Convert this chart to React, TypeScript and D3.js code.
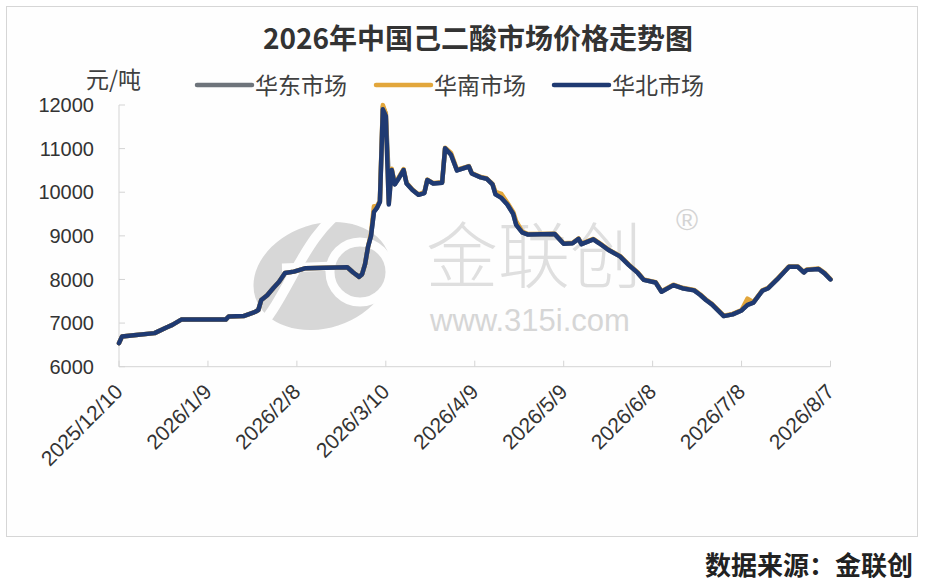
import React from "react";
import * as d3 from "d3";

const dates = [
  "2025-12-10","2025-12-11","2025-12-15","2025-12-22","2025-12-26","2025-12-28","2025-12-31",
  "2026-01-15","2026-01-16","2026-01-21","2026-01-25","2026-01-26","2026-01-27","2026-01-29","2026-01-31",
  "2026-02-02","2026-02-04","2026-02-07","2026-02-11","2026-02-25","2026-02-27",
  "2026-03-01","2026-03-02","2026-03-03","2026-03-04","2026-03-05","2026-03-06","2026-03-07","2026-03-08",
  "2026-03-09","2026-03-10","2026-03-11","2026-03-12","2026-03-13","2026-03-14","2026-03-16","2026-03-17",
  "2026-03-19","2026-03-21","2026-03-23","2026-03-24","2026-03-26","2026-03-29","2026-03-30",
  "2026-04-01","2026-04-03","2026-04-07","2026-04-08","2026-04-11","2026-04-13","2026-04-15","2026-04-16",
  "2026-04-18","2026-04-20","2026-04-22","2026-04-23","2026-04-25","2026-04-27",
  "2026-05-06","2026-05-09","2026-05-12","2026-05-14","2026-05-15","2026-05-19","2026-05-21","2026-05-24",
  "2026-05-28","2026-05-31","2026-06-03","2026-06-05","2026-06-09","2026-06-11","2026-06-15","2026-06-18",
  "2026-06-22","2026-06-24","2026-06-26","2026-06-28","2026-07-02","2026-07-05","2026-07-08","2026-07-10",
  "2026-07-12","2026-07-15","2026-07-17","2026-07-20","2026-07-24","2026-07-27","2026-07-29","2026-07-30",
  "2026-08-03","2026-08-05","2026-08-07",
];

const northValues = [
  6540,6690,6720,6770,6900,6960,7080,
  7080,7150,7160,7260,7300,7530,7640,7800,
  7950,8150,8180,8260,8280,8160,
  8060,8120,8350,8750,9000,9550,9640,9780,
  11900,11750,9720,10510,10180,10280,10510,10200,
  10050,9940,9980,10280,10200,10220,11010,
  10860,10500,10590,10430,10340,10310,10180,9950,
  9870,9720,9500,9250,9080,9030,
  9040,8820,8830,8930,8810,8920,8830,8680,
  8530,8330,8150,7990,7930,7720,7870,7800,
  7750,7650,7530,7430,7160,7200,7290,7420,
  7470,7740,7800,8000,8290,8290,8160,8220,
  8240,8140,8000,
];

const eastValues = [
  6540,6690,6720,6770,6900,6960,7080,
  7080,7150,7160,7260,7300,7530,7640,7800,
  7950,8150,8180,8260,8280,8160,
  8060,8120,8350,8750,9000,9560,9640,9780,
  11960,11800,10300,10510,10180,10280,10510,10200,
  10050,9940,9980,10280,10200,10220,11010,
  10860,10500,10590,10430,10340,10310,10180,9950,
  9870,9720,9500,9250,9080,9030,
  9040,8820,8830,8930,8810,8920,8830,8680,
  8530,8330,8150,7990,7930,7720,7870,7800,
  7750,7650,7530,7430,7160,7200,7290,7420,
  7470,7740,7800,8000,8290,8290,8160,8220,
  8240,8140,8000,
];

const southValues = [
  6540,6690,6720,6770,6900,6960,7080,
  7080,7150,7160,7260,7300,7530,7640,7800,
  7950,8150,8180,8260,8280,8160,
  8060,8120,8350,8750,9050,9680,9680,9800,
  12000,11800,9750,10540,10200,10300,10530,10220,
  10060,9950,10000,10290,10210,10230,11020,
  10900,10520,10600,10440,10350,10320,10190,10010,
  9960,9760,9540,9330,9100,9040,
  9050,8830,8840,8940,8820,8930,8840,8690,
  8540,8340,8160,8000,7940,7730,7880,7810,
  7760,7660,7540,7440,7170,7210,7300,7560,
  7480,7750,7810,8010,8300,8300,8170,8230,
  8250,8150,8010,
];

const seriesNames = ["华东市场", "华南市场", "华北市场"];
const seriesColors = ["#6e747b", "#e2a63b", "#1f3a72"];

const xTickLabels = [
  "2025/12/10","2026/1/9","2026/2/8","2026/3/10","2026/4/9",
  "2026/5/9","2026/6/8","2026/7/8","2026/8/7",
];
const yTicks = [6000, 7000, 8000, 9000, 10000, 11000, 12000];

const parse = d3.timeParse("%Y-%m-%d");
const parseTick = d3.timeParse("%Y/%m/%d");

const W = 926;
const H = 584;
const CJK = "'Noto Sans CJK SC', 'Noto Sans', sans-serif";
const NUM = "'Liberation Sans', Arial, sans-serif";

export default function App() {
  const x = d3
    .scaleTime()
    .domain([parse("2025-12-10") as Date, parse("2026-08-07") as Date])
    .range([119, 830.5]);
  const y = d3.scaleLinear().domain([6000, 12000]).range([366.7, 105]);

  const allSeries = [eastValues, southValues, northValues];
  const line = d3
    .line<number>()
    .x((_, i) => x(parse(dates[i]) as Date))
    .y((v) => y(v))
    .curve(d3.curveLinear);

  const legendX = [197, 376, 554];

  return (
    <svg
      width={W}
      height={H}
      viewBox={`0 0 ${W} ${H}`}
      style={{ position: "absolute", left: 0, top: 0, background: "#fff" }}
    >
      <rect x={0} y={0} width={W} height={H} fill="#ffffff" />
      <rect x={6.5} y={6.5} width={911} height={530} fill="#fefefe" stroke="#d6d6d6" strokeWidth={1} />

      {/* watermark */}
      <g opacity={0.9}>
        <ellipse cx={322} cy={276} rx={70} ry={52} transform="rotate(-18 322 276)" fill="#d3d3d3" />
        <path d="M 350 205 C 300 235, 290 300, 250 338" stroke="#fefefe" strokeWidth={10} fill="none" />
        <path d="M 282 268 L 335 266" stroke="#fefefe" strokeWidth={9} fill="none" />
        <circle cx={360} cy={272} r={30} stroke="#fefefe" strokeWidth={9} fill="#d3d3d3" />
        <text x={426} y={282} fontFamily={CJK} fontSize={72} fill="#dcdcdc" fontWeight={300}>
          金联创
        </text>
        <text x={676} y={230} fontFamily={NUM} fontSize={30} fill="#d0d0d0">
          ®
        </text>
        <text x={430} y={331} fontFamily={NUM} fontSize={31} fill="#d2d2d2" fontWeight={300}>
          www.315i.com
        </text>
      </g>

      {/* title */}
      <text x={478} y={49} textAnchor="middle" fontFamily={CJK} fontSize={28} fontWeight={700} fill="#333333">
        2026年中国己二酸市场价格走势图
      </text>

      {/* unit */}
      <text x={86} y={88} fontFamily={CJK} fontSize={23} fill="#404040">
        元/吨
      </text>

      {/* legend */}
      {seriesNames.map((n, i) => (
        <g key={n}>
          <line
            x1={legendX[i]}
            x2={legendX[i] + 55}
            y1={85}
            y2={85}
            stroke={seriesColors[i]}
            strokeWidth={4.5}
            strokeLinecap="round"
          />
          <text x={legendX[i] + 58} y={94} fontFamily={CJK} fontSize={23} fill="#404040">
            {n}
          </text>
        </g>
      ))}

      {/* axes */}
      <line x1={119} x2={119} y1={y(12000)} y2={y(6000)} stroke="#d4d4d4" strokeWidth={1} />
      <line x1={119} x2={x(parseTick(xTickLabels[xTickLabels.length - 1]) as Date)} y1={y(6000)} y2={y(6000)} stroke="#d4d4d4" strokeWidth={1} />
      {yTicks.map((t) => (
        <g key={t}>
          <line x1={119} x2={125} y1={y(t)} y2={y(t)} stroke="#d4d4d4" />
          <text
            x={94}
            y={y(t)}
            dy="0.36em"
            textAnchor="end"
            fontFamily={NUM}
            fontSize={20}
            fill="#333333"
          >
            {t}
          </text>
        </g>
      ))}
      {xTickLabels.map((t) => {
        const px = x(parseTick(t) as Date);
        return (
          <g key={t}>
            <line x1={px} x2={px} y1={y(6000) - 6} y2={y(6000)} stroke="#d4d4d4" />
            <text
              transform={`translate(${px + 5},${393}) rotate(-45)`}
              textAnchor="end"
              fontFamily={NUM}
              fontSize={21}
              fill="#333333"
            >
              {t}
            </text>
          </g>
        );
      })}

      {/* series */}
      {allSeries.map((vals, i) => (
        <path
          key={i}
          d={line(vals) as string}
          fill="none"
          stroke={seriesColors[i]}
          strokeWidth={4.5}
          strokeLinejoin="round"
          strokeLinecap="round"
        />
      ))}

      {/* footer */}
      <text x={913} y={575} textAnchor="end" fontFamily={CJK} fontSize={26} fontWeight={700} fill="#222222">
        数据来源：金联创
      </text>
    </svg>
  );
}
